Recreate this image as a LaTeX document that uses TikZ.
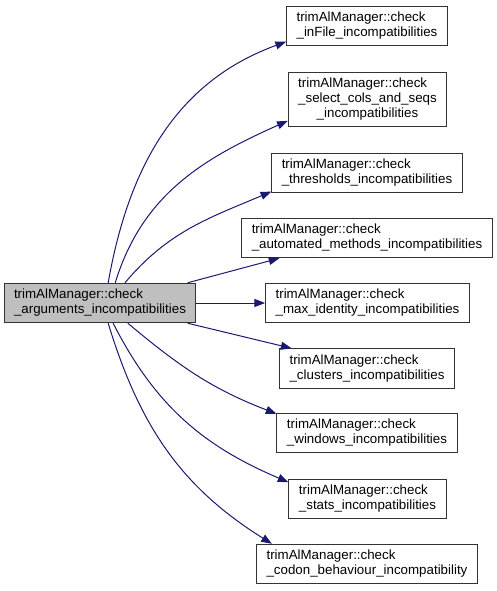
\documentclass[tikz,border=0pt]{standalone}
\usepackage{fontspec}
\setmainfont{Liberation Sans}
\usepackage{tikz}
\usetikzlibrary{arrows.meta}
\definecolor{edgeblue}{RGB}{25, 25, 112}
\definecolor{callergray}{RGB}{191, 191, 191}

\begin{document}
\begin{tikzpicture}[x=0.75pt, y=0.75pt,
    fnbox/.style={draw=black!80, line width=0.75pt, fill=white, align=left, inner xsep=7.5pt, inner ysep=4.5pt, font=\fontsize{10}{11.25}\selectfont},
    call/.style={draw=edgeblue, line width=0.75pt, -{Triangle[length=8pt, width=6pt]}}]
        \useasboundingbox (0,0) rectangle (496,-591);

        % Caller
        \node[fnbox, fill=callergray] (args) at (100,-303) {trimAlManager::check\\\_arguments\_incompatibilities};

        % Callees
        \node[fnbox] (infile) at (367,-26) {trimAlManager::check\\\_inFile\_incompatibilities};
        \node[fnbox] (select) at (367.5,-99.5) {trimAlManager::check\\\_select\_cols\_and\_seqs\\\hfill\_incompatibilities\hfill\null};
        \node[fnbox] (thresholds) at (367,-173) {trimAlManager::check\\\_thresholds\_incompatibilities};
        \node[fnbox] (automated) at (367,-238) {trimAlManager::check\\\_automated\_methods\_incompatibilities};
        \node[fnbox] (maxident) at (367.5,-303) {trimAlManager::check\\\_max\_identity\_incompatibilities};
        \node[fnbox] (clusters) at (367,-368.5) {trimAlManager::check\\\_clusters\_incompatibilities};
        \node[fnbox] (windows) at (367,-433) {trimAlManager::check\\\_windows\_incompatibilities};
        \node[fnbox] (stats) at (367.5,-499) {trimAlManager::check\\\_stats\_incompatibilities};
        \node[fnbox] (codon) at (367,-564) {trimAlManager::check\\\_codon\_behaviour\_incompatibility};

        % Calls
        \draw[call] (args.68) to[out=80, in=200] (infile.191);
        \draw[call] (args.53) to[out=73, in=204] (select.195);
        \draw[call] (args.39) to[out=50, in=203] (thresholds.191);
        \draw[call] (args.13) -- (automated.193);
        \draw[call] (args.east) -- (maxident.west);
        \draw[call] (args.-13) -- (clusters.165);
        \draw[call] (args.-36) to[out=-40, in=159] (windows.168);
        \draw[call] (args.-57) to[out=-63, in=157] (stats.168);
        \draw[call] (args.-68) to[out=-73, in=148] (codon.168.5);
    \end{tikzpicture}
\end{document}
